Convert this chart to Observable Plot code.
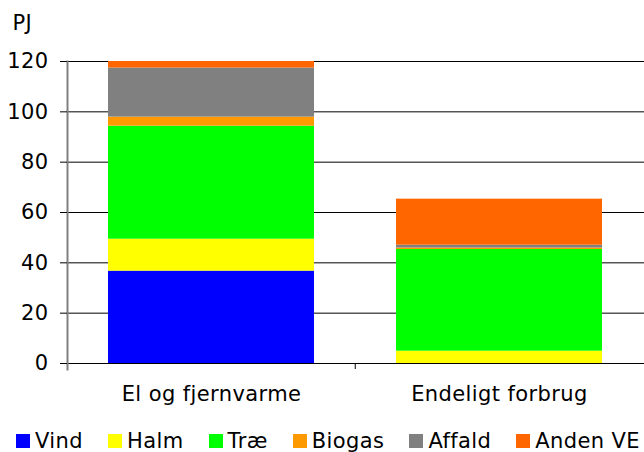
<!DOCTYPE html>
<html>
<head>
<meta charset="utf-8">
<script src="https://cdn.jsdelivr.net/npm/d3@7"></script>
<script src="https://cdn.jsdelivr.net/npm/@observablehq/plot@0.6"></script>
<style>
  html, body { margin: 0; padding: 0; background: #fff; }
  body { width: 644px; height: 452px; overflow: hidden; font-family: "DejaVu Sans", Verdana, sans-serif; }
  #legend { position: relative; height: 40px; margin-top: 17px; font-size: 21px; letter-spacing: 0.4px; line-height: 24px; white-space: nowrap; color: #000; padding-left: 16px; }
  #legend .item { display: inline-block; margin-right: 25px; }
  #legend .sw { display: inline-block; width: 14px; height: 14px; margin-right: 5px; }
</style>
</head>
<body>
<div id="chart"></div>
<div id="legend"></div>
<script>
const categories = ["El og fjernvarme", "Endeligt forbrug"];
const series = ["Vind", "Halm", "Træ", "Biogas", "Affald", "Anden VE"];
const colors = ["#0000ff", "#ffff00", "#00ff00", "#ff9900", "#808080", "#ff6600"];
const elValues = [36.7, 12.7, 44.9, 3.6, 19.5, 2.6];
const endeligtValues = [0, 4.9, 40.4, 0.6, 1.1, 18.3];
const yTicks = [0, 20, 40, 60, 80, 100, 120];
const unit = "PJ";

const valuesByCategory = [elValues, endeligtValues];
const data = categories.flatMap((c, i) =>
  series.map((s, j) => ({category: c, series: s, value: valuesByCategory[i][j]}))
);

const W = 644, H = 412, mL = 67, mR = 0, mT = 61, mB = 49;
const step = (W - mL - mR) / categories.length;

const chart = Plot.plot({
  width: W, height: H,
  marginLeft: mL, marginRight: mR, marginTop: mT, marginBottom: mB,
  style: {fontFamily: "DejaVu Sans", fontSize: "21px", letterSpacing: "0.4px", color: "#000", background: "#fff", overflow: "visible"},
  x: {domain: categories, paddingInner: 0.284, paddingOuter: 0.142, label: null},
  y: {domain: [0, 120], label: null},
  color: {domain: series, range: colors},
  marks: [
    Plot.ruleY(yTicks, {stroke: "#000", strokeWidth: 1}),
    Plot.barY(data, Plot.stackY({x: "category", y: "value", fill: "series"})),
    Plot.ruleY([0], {stroke: "#000", strokeWidth: 1}),
    Plot.frame({anchor: "left", stroke: "#808080", strokeWidth: 2, insetBottom: -6}),
    Plot.ruleX([categories[1]], {x: d => d, y1: 0, y2: 0, insetBottom: -6, dx: -step / 2, stroke: "#000"}),
    Plot.axisY({ticks: yTicks, tickSize: 7, tickPadding: 12, stroke: "#000", fill: "#000", label: null}),
    Plot.axisX({tickSize: 0, tickPadding: 23, fill: "#000", label: null}),
    Plot.text([unit], {frameAnchor: "top-left", dx: -55, dy: -46, textAnchor: "start", lineAnchor: "top", fill: "#000"})
  ]
});
document.getElementById("chart").appendChild(chart);

const legend = d3.select("#legend");
series.forEach((s, i) => {
  const item = legend.append("span").attr("class", "item");
  item.append("span").attr("class", "sw").style("background", colors[i]);
  item.append("span").text(s);
});
</script>
</body>
</html>
